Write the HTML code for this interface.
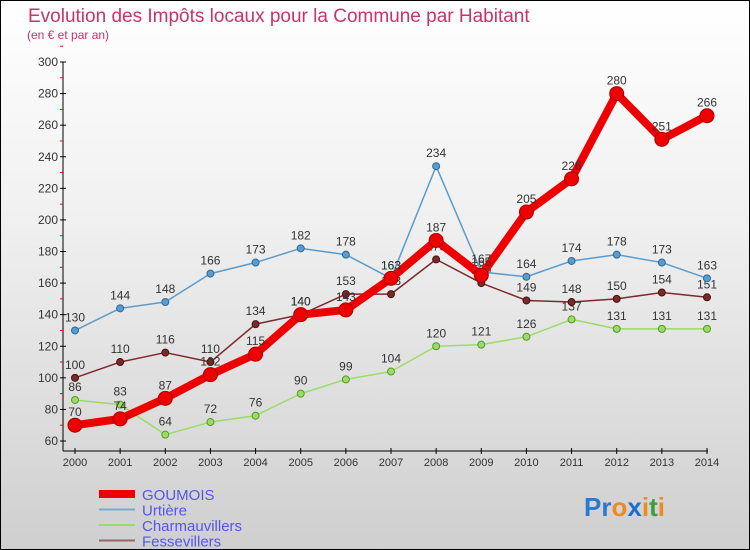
<!DOCTYPE html>
<html><head><meta charset="utf-8"><style>
body{margin:0}
#c{width:748px;height:548px;border:1px solid #000;background:linear-gradient(#fff 0%,#f0f0f0 40%,#cfcfcf 100%);position:relative;overflow:hidden;font-family:"Liberation Sans",sans-serif}
</style></head><body>
<div id="c">
<svg id="s" width="748" height="548">
<text x="27" y="21" font-size="19" fill="#c8336a">Evolution des Impôts locaux pour la Commune par Habitant</text>
<text x="26" y="38" font-size="12" fill="#c8336a">(en € et par an)</text>
<text x="583" y="515" font-size="26" font-weight="bold"><tspan fill="#2a7ad0">Pr</tspan><tspan fill="#f08a1c">o</tspan><tspan fill="#1a6fd0">x</tspan><tspan fill="#f08a1c">i</tspan><tspan fill="#3aa03a">t</tspan><tspan fill="#f08a1c">i</tspan></text>
</svg>
</div>
<script>
const years=[2000,2001,2002,2003,2004,2005,2006,2007,2008,2009,2010,2011,2012,2013,2014];
const yTicks=[60,80,100,120,140,160,180,200,220,240,260,280,300];
const goumois=[70,74,87,102,115,140,143,163,187,165,205,226,280,251,266];
const urtiere=[130,144,148,166,173,182,178,163,234,167,164,174,178,173,163];
const charmauvillers=[86,83,64,72,76,90,99,104,120,121,126,137,131,131,131];
const fessevillers=[100,110,116,110,134,140,153,153,175,160,149,148,150,154,151];
const NS="http://www.w3.org/2000/svg",s=document.getElementById('s');
const X=i=>74+i*(632/14), Y=v=>440-(v-60)*(379/240);
function el(t,a,p){const e=document.createElementNS(NS,t);for(const k in a)e.setAttribute(k,a[k]);(p||s).appendChild(e);return e;}
let e=el('line',{x1:62,y1:61,x2:62,y2:450,stroke:'#000'});


e=el('line',{x1:62,y1:450,x2:707,y2:450,stroke:'#000'});


yTicks.forEach(v=>{
 el('line',{x1:59,x2:65,y1:Y(v),y2:Y(v),stroke:'#000'});
 el('line',{x1:59,x2:62,y1:Y(v+10),y2:Y(v+10),stroke:'#f00'});
 const t=el('text',{x:57,y:Y(v)+4,'font-size':12,'text-anchor':'end',fill:'#333'});t.textContent=v;
 
 
});
years.forEach((yr,i)=>{
 el('line',{x1:X(i),x2:X(i),y1:447,y2:453,stroke:'#000'});
 const t=el('text',{x:X(i),y:465,'font-size':11,'text-anchor':'middle',fill:'#333'});t.textContent=yr;
 
 
});
function series(d,color,dark,w,r,name){
 const g=el('g',{});
 
 
 el('polyline',{points:d.map((v,i)=>X(i)+','+Y(v)).join(' '),fill:'none',stroke:color,'stroke-width':w,'stroke-linejoin':'round'},g);
 d.forEach((v,i)=>{
  const c=el('circle',{cx:X(i),cy:Y(v),r:r,fill:color,stroke:dark,'stroke-width':1},g);
  
  
  const t=el('text',{x:X(i),y:Y(v)-9,'font-size':12,'text-anchor':'middle',fill:'#333'},g);t.textContent=v;
  
  
 });
}
series(charmauvillers,'#99dd66','#559922',1.5,3.5,'charmauvillers');
series(fessevillers,'#7a2a2a','#4a1010',1.5,3.5,'fessevillers');
series(urtiere,'#5a9ccc','#2a6a9a',1.5,3.5,'urtiere');
series(goumois,'#ee0000','#aa0000',8,7,'goumois');
const leg=[['GOUMOIS','#ee0000',8],['Urtière','#7aaacc',2],['Charmauvillers','#99dd66',2],['Fessevillers','#996666',2]];
leg.forEach((l,i)=>{
 const y=493+i*15.5;
 const g=el('g',{});
 
 
 el('line',{x1:98,x2:134,y1:y,y2:y,stroke:l[1],'stroke-width':l[2]},g);
 const t=el('text',{x:141,y:y+6,'font-size':15,fill:'#5555ee'},g);t.textContent=l[0];
});
</script>
</body></html>
